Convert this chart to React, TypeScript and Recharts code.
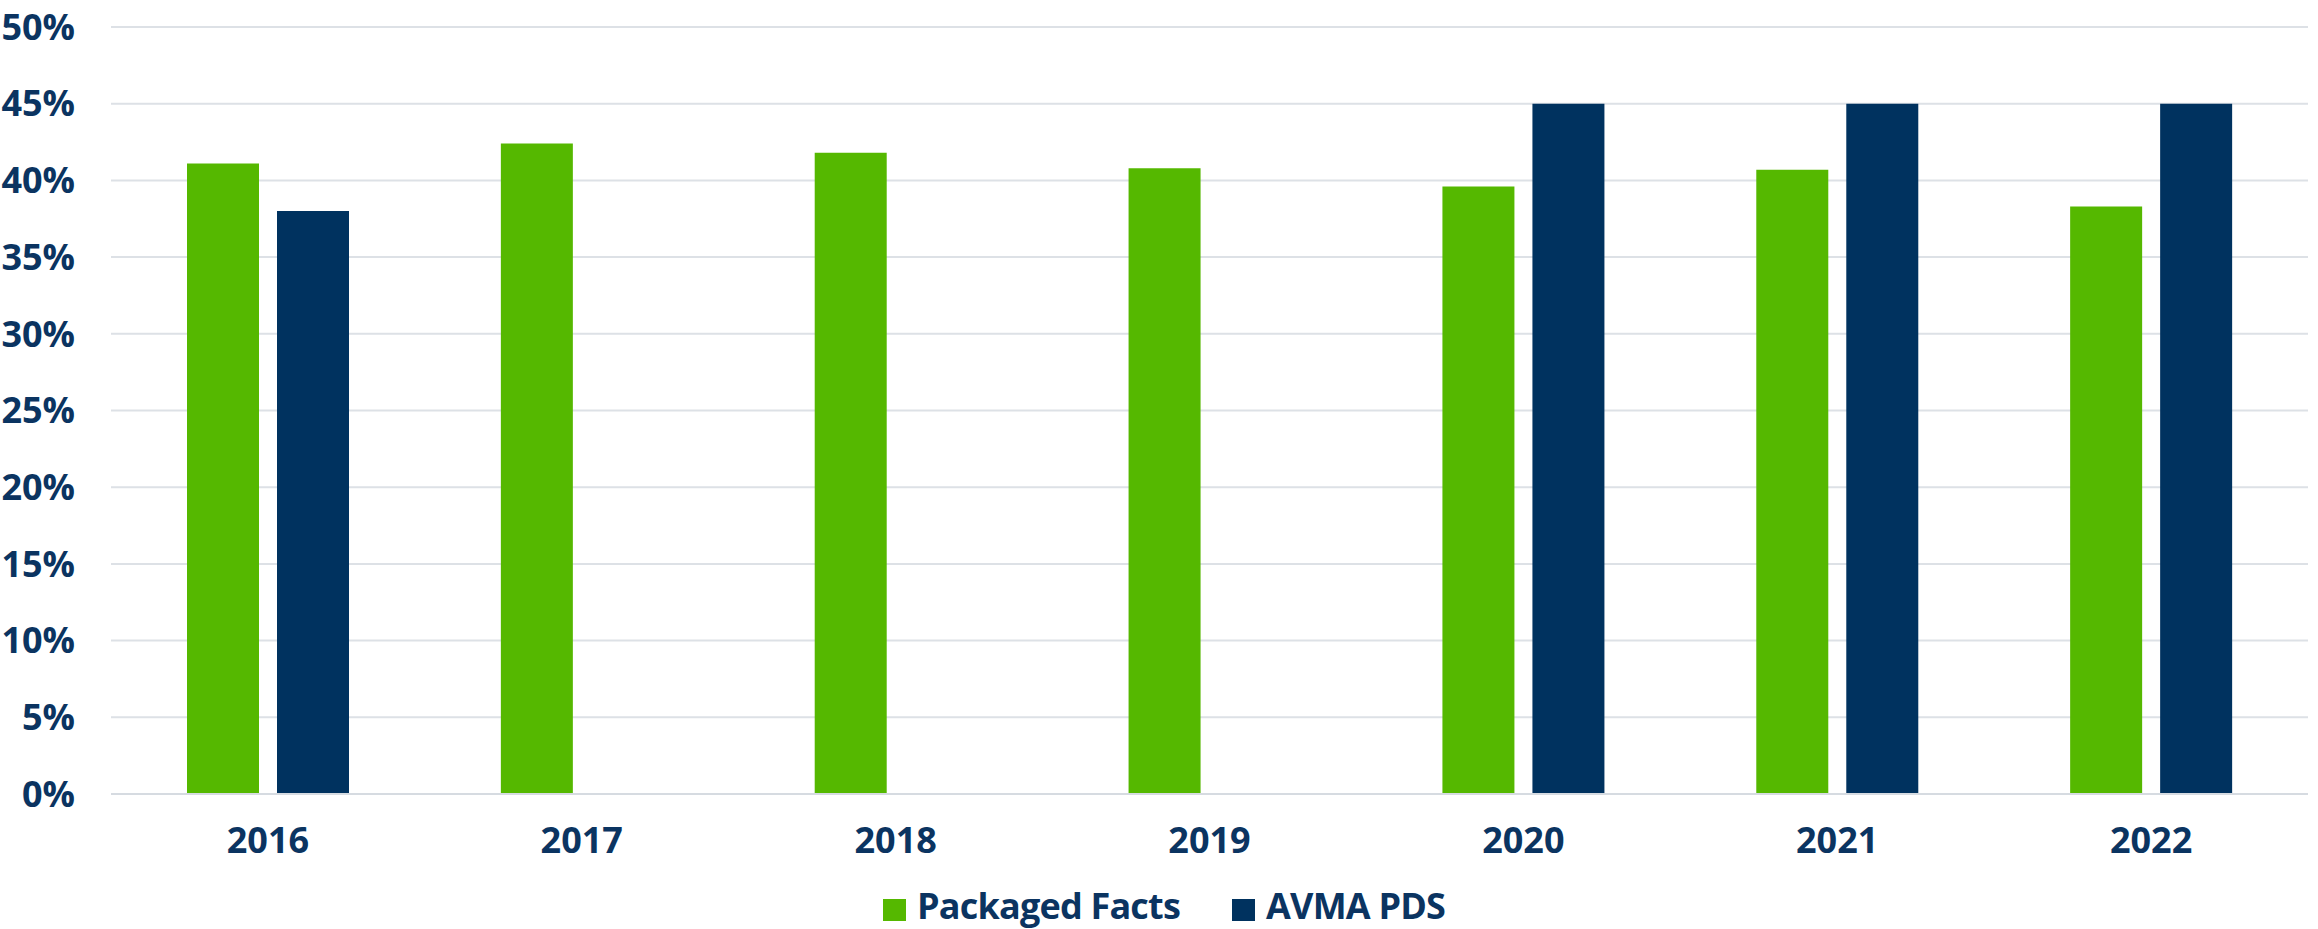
import { BarChart, Bar, XAxis, YAxis, CartesianGrid, Legend } from "recharts"

// survey years and share values (%)
const years = ["2016", "2017", "2018", "2019", "2020", "2021", "2022"]
const packagedFacts = [41.1, 42.4, 41.8, 40.8, 39.6, 40.7, 38.3]
const avmaPds = [38, null, null, null, 45, 45, 45]
const yTicks = [0, 5, 10, 15, 20, 25, 30, 35, 40, 45, 50]
const seriesOrder = ["Packaged Facts", "AVMA PDS"]

const GREEN = "#55b800"
const NAVY = "#00325f"
const TEXT = "#0b3461"
const FONT = "'Open Sans', sans-serif"

const chartData = years.map((year, i) => ({
  year,
  packaged: packagedFacts[i],
  avma: avmaPds[i],
}))

function LegendRow({ payload }: any) {
  // keep the series order, recharts sorts the payload by name
  const items = [...(payload || [])].sort((a: any, b: any) => seriesOrder.indexOf(a.value) - seriesOrder.indexOf(b.value))
  return (
    <div style={{ display: "flex", alignItems: "flex-start", height: 55, paddingLeft: 883, boxSizing: "border-box", paddingTop: 14 }}>
      {items.map((p: any) => (
        <div key={p.value} style={{ display: "flex", alignItems: "flex-start", marginRight: 52 }}>
          <span style={{ width: 23, height: 22, background: p.color, display: "inline-block", marginRight: 11, marginTop: 11 }} />
          <span
            style={{
              fontFamily: FONT,
              fontWeight: 700,
              fontSize: 36,
              letterSpacing: -0.8,
              color: TEXT,
              lineHeight: 1,
            }}
          >
            {p.value}
          </span>
        </div>
      ))}
    </div>
  )
}

export default function App() {
  return (
    <div style={{ width: 2318, height: 929, background: "#fff" }}>
      <style>{`body{margin:0}`}</style>
      <BarChart width={2318} height={929} data={chartData} margin={{ top: 27, right: 10, left: 0, bottom: 0 }} barGap={18}>
        <CartesianGrid vertical={false} stroke="#dde1e6" strokeWidth={2} />
        <XAxis
          dataKey="year"
          height={80}
          axisLine={{ stroke: "#d6dbe1", strokeWidth: 2 }}
          tickLine={false}
          tickSize={0}
          tickMargin={33}
          tick={{ fill: TEXT, fontFamily: FONT, fontWeight: 700, fontSize: 36 }}
        />
        <YAxis
          width={111}
          domain={[0, 50]}
          ticks={yTicks}
          tickFormatter={(v) => `${v}%`}
          axisLine={false}
          tickLine={false}
          tickSize={0}
          tickMargin={36}
          tick={{ fill: TEXT, fontFamily: FONT, fontWeight: 700, fontSize: 36 }}
        />
        <Legend verticalAlign="bottom" content={<LegendRow />} wrapperStyle={{ left: 0, width: 2318 }} />
        <Bar dataKey="packaged" name="Packaged Facts" fill={GREEN} barSize={72} isAnimationActive={false} />
        <Bar dataKey="avma" name="AVMA PDS" fill={NAVY} barSize={72} isAnimationActive={false} />
      </BarChart>
    </div>
  )
}
